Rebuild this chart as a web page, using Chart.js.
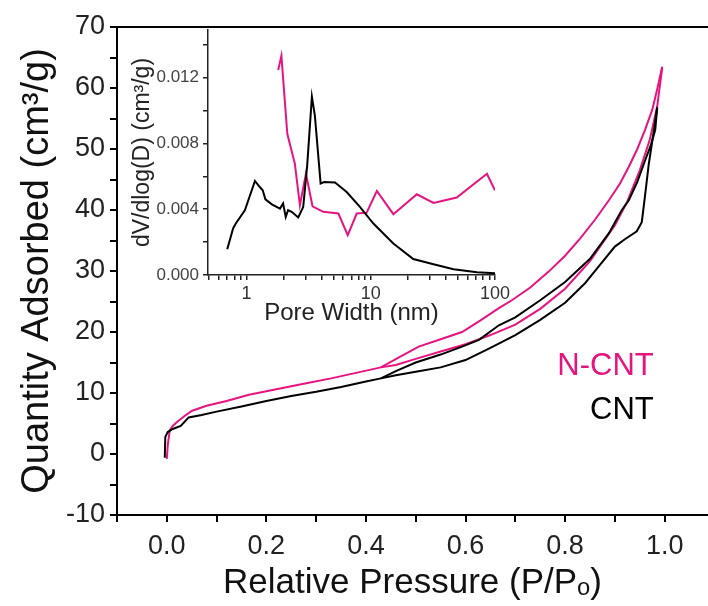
<!DOCTYPE html>
<html>
<head>
<meta charset="utf-8">
<script src="https://cdn.jsdelivr.net/npm/chart.js@4.4.1/dist/chart.umd.min.js"></script>
<style>
  html, body { margin: 0; padding: 0; background: #fff; }
  #wrap { position: relative; width: 708px; height: 606px; overflow: hidden; }
  #main { position: absolute; left: 0; top: 0; }
  #inset { position: absolute; left: 110px; top: 0; }
</style>
</head>
<body>
<div id="wrap">
  <canvas id="main" width="708" height="606"></canvas>
  <canvas id="inset" width="420" height="340"></canvas>
</div>
<script>
"use strict";

// isotherms: relative pressure (P/Po) vs quantity adsorbed (cm3/g)
var seriesNames = ['N-CNT', 'CNT'];

var cntAdsP = [-0.004, -0.003, 0.002, 0.012, 0.028, 0.044, 0.07, 0.10, 0.15, 0.20, 0.25, 0.30, 0.35, 0.40, 0.43, 0.46, 0.50, 0.55, 0.60, 0.65, 0.70, 0.75, 0.80, 0.84, 0.87, 0.90, 0.92, 0.944, 0.954, 0.960, 0.968, 0.976, 0.985];
var cntAdsQ = [-0.6, 2.8, 3.6, 4.1, 4.6, 6.0, 6.4, 6.95, 7.8, 8.7, 9.5, 10.2, 11.0, 11.9, 12.4, 12.9, 13.5, 14.2, 15.4, 17.4, 19.5, 22.0, 24.8, 28.0, 31.0, 34.0, 35.2, 36.5, 38.0, 42.0, 47.5, 51.8, 56.8];
var cntDesP = [0.985, 0.981, 0.972, 0.961, 0.945, 0.928, 0.914, 0.888, 0.85, 0.80, 0.75, 0.70, 0.667, 0.627, 0.593, 0.55, 0.50, 0.46, 0.43];
var cntDesQ = [56.8, 53.1, 50.6, 48.2, 44.6, 41.6, 40.0, 36.2, 32.0, 28.2, 25.2, 22.4, 21.1, 18.7, 17.6, 16.3, 15.0, 13.6, 12.4];

var ncntAdsP = [0.0, 0.002, 0.006, 0.012, 0.02, 0.035, 0.051, 0.08, 0.12, 0.165, 0.22, 0.28, 0.33, 0.38, 0.43, 0.46, 0.50, 0.55, 0.60, 0.65, 0.70, 0.75, 0.80, 0.85, 0.90, 0.925, 0.95, 0.97, 0.985, 0.995];
var ncntAdsQ = [-0.8, 1.5, 3.9, 4.6, 5.2, 6.2, 7.1, 7.9, 8.7, 9.7, 10.6, 11.6, 12.4, 13.3, 14.2, 14.6, 15.6, 16.8, 18.0, 19.5, 21.2, 23.8, 27.1, 31.6, 37.5, 41.4, 46.5, 51.5, 57.0, 63.3];
var ncntDesP = [0.995, 0.985, 0.975, 0.96, 0.945, 0.928, 0.91, 0.888, 0.86, 0.83, 0.80, 0.767, 0.73, 0.693, 0.667, 0.63, 0.593, 0.55, 0.506, 0.47, 0.43];
var ncntDesQ = [63.5, 59.8, 56.4, 53.0, 50.0, 47.1, 44.3, 41.6, 38.4, 35.3, 32.5, 29.9, 27.3, 25.2, 23.9, 21.9, 20.0, 18.8, 17.6, 16.0, 14.2];

// inset: pore size distribution, width (nm) vs dV/dlog(D)
var poreCntD = [0.70, 0.78, 0.82, 0.97, 1.17, 1.28, 1.35, 1.42, 1.60, 1.86, 1.97, 2.07, 2.16, 2.31, 2.61, 2.86, 3.08, 3.36, 3.55, 3.95, 4.2, 5.16, 6.4, 8.18, 10.5, 15.2, 22.0, 32, 46.4, 71.6, 100];
var poreCntV = [0.00156, 0.00283, 0.00313, 0.00394, 0.00572, 0.00535, 0.00515, 0.0046, 0.0043, 0.00404, 0.00435, 0.00353, 0.00394, 0.00384, 0.0035, 0.00414, 0.00667, 0.01085, 0.0097, 0.00556, 0.00565, 0.00562, 0.00505, 0.00414, 0.00313, 0.00192, 0.00097, 0.00065, 0.00035, 0.00017, 0.0001];
var poreNcntD = [1.80, 1.91, 2.13, 2.45, 2.69, 3.01, 3.40, 4.15, 5.49, 6.53, 7.71, 9.25, 11.2, 15.2, 23.5, 32, 49.2, 86.1, 100];
var poreNcntV = [0.01247, 0.01333, 0.00859, 0.00677, 0.00424, 0.00616, 0.00418, 0.00384, 0.00374, 0.00242, 0.00374, 0.00378, 0.00511, 0.0037, 0.00491, 0.00438, 0.00471, 0.00616, 0.00515];

var poreTicks = [0.5, 0.6, 0.7, 0.8, 0.9, 1, 2, 3, 4, 5, 6, 7, 8, 9, 10, 20, 30, 40, 50, 60, 70, 80, 90, 100];
var poreTickLabels = [1, 10, 100];

var PINK = '#e6147f';
var BLACK = '#000';
var FONT = '"Liberation Sans", Arial, sans-serif';

Chart.defaults.font.family = FONT;
Chart.defaults.color = '#000';

function points(xs, ys) {
    return xs.map(function(x, i) {
        return {x: x, y: ys[i]};
    });
}

function line(label, xs, ys, color) {
    return {
        label: label,
        data: points(xs, ys),
        showLine: true,
        borderColor: color,
        backgroundColor: color,
        borderWidth: 2,
        pointRadius: 0,
        tension: 0
    };
}

var seriesLabels = {
    id: 'seriesLabels',
    afterDatasetsDraw: function(chart) {
        var ctx = chart.ctx;
        var xs = chart.scales.x;
        var ys = chart.scales.y;
        var colors = [PINK, BLACK];
        var rows = [14.4, 7.2];
        ctx.save();
        ctx.font = '31px ' + FONT;
        ctx.textAlign = 'right';
        ctx.textBaseline = 'middle';
        seriesNames.forEach(function(name, i) {
            ctx.fillStyle = colors[i];
            ctx.fillText(name, xs.getPixelForValue(0.978), ys.getPixelForValue(rows[i]));
        });
        ctx.restore();
    }
};

var axisGrid = {drawOnChartArea: false, drawTicks: true, tickLength: 7, color: '#000', lineWidth: 2};
var axisBorder = {display: true, color: '#000', width: 2};

var mainChart = new Chart(document.getElementById('main'), {
    type: 'scatter',
    data: {
        datasets: [
            line('CNT', cntAdsP, cntAdsQ, BLACK),
            line('CNT desorption', cntDesP, cntDesQ, BLACK),
            line('N-CNT', ncntAdsP, ncntAdsQ, PINK),
            line('N-CNT desorption', ncntDesP, ncntDesQ, PINK)
        ]
    },
    options: {
        responsive: false,
        animation: false,
        layout: {padding: 0},
        plugins: {legend: {display: false}, tooltip: {enabled: false}},
        scales: {
            x: {
                type: 'linear', position: 'bottom', min: -0.1, max: 1.087,
                grid: axisGrid, border: axisBorder,
                ticks: {
                    stepSize: 0.1, includeBounds: false, autoSkip: false, maxRotation: 0,
                    padding: 8, color: '#222', font: {size: 27},
                    callback: function(v) {
                        var n = Math.round(v * 10);
                        return (n >= 0 && n % 2 === 0) ? (n / 10).toFixed(1) : '';
                    }
                },
                title: {display: true, text: 'Relative Pressure (P/P\u2092)', color: '#111', font: {size: 35}, padding: {top: 0, bottom: 2}},
                afterFit: function(scale) { scale.height = 91; }
            },
            xTop: {
                type: 'linear', axis: 'x', position: 'top', min: -0.1, max: 1.087,
                grid: {display: false, drawTicks: false}, border: axisBorder,
                ticks: {display: false},
                afterFit: function(scale) { scale.height = 27; }
            },
            y: {
                type: 'linear', position: 'left', min: -10, max: 70,
                grid: axisGrid, border: axisBorder,
                ticks: {
                    stepSize: 5, autoSkip: false, padding: 5, color: '#222', font: {size: 27},
                    callback: function(v) {
                        return Math.round(v) % 10 === 0 ? String(v) : '';
                    }
                },
                title: {display: true, text: 'Quantity Adsorbed (cm\u00b3/g)', color: '#111', font: {size: 38}, padding: {top: 15, bottom: 0}},
                afterFit: function(scale) { scale.width = 117; }
            }
        }
    },
    plugins: [seriesLabels]
});

var insetGrid = {drawOnChartArea: false, drawTicks: true, tickLength: 5, color: '#222', lineWidth: 1.5};
var insetBorder = {display: true, color: '#222', width: 1.5};

var insetChart = new Chart(document.getElementById('inset'), {
    type: 'scatter',
    data: {
        datasets: [
            line('CNT', poreCntD, poreCntV, BLACK),
            line('N-CNT', poreNcntD, poreNcntV, PINK)
        ]
    },
    options: {
        responsive: false,
        animation: false,
        layout: {padding: {top: 30, right: 35, left: 0, bottom: 0}},
        plugins: {legend: {display: false}, tooltip: {enabled: false}},
        scales: {
            x: {
                type: 'logarithmic', position: 'bottom', min: 0.49, max: 100,
                grid: insetGrid, border: insetBorder,
                afterBuildTicks: function(scale) {
                    scale.ticks = poreTicks.map(function(v) { return {value: v}; });
                },
                ticks: {
                    autoSkip: false, maxRotation: 0, padding: 3, color: '#333', font: {size: 18},
                    callback: function(v) {
                        return poreTickLabels.indexOf(v) >= 0 ? String(v) : '';
                    }
                },
                title: {display: true, text: 'Pore Width (nm)', color: '#222', font: {size: 24}, padding: {top: 0, bottom: 12}},
                afterFit: function(scale) { scale.height = 65; }
            },
            y: {
                type: 'linear', position: 'left', min: 0, max: 0.0149,
                grid: insetGrid, border: insetBorder,
                ticks: {
                    stepSize: 0.002, includeBounds: false, autoSkip: false, padding: 4, color: '#444', font: {size: 17},
                    callback: function(v) {
                        return Math.round(v * 1000) % 4 === 0 ? v.toFixed(3) : '';
                    }
                },
                title: {display: true, text: 'dV/dlog(D) (cm\u00b3/g)', color: '#222', font: {size: 23}, padding: {top: 19, bottom: 0}},
                afterFit: function(scale) { scale.width = 98; }
            }
        }
    }
});
</script>
</body>
</html>
